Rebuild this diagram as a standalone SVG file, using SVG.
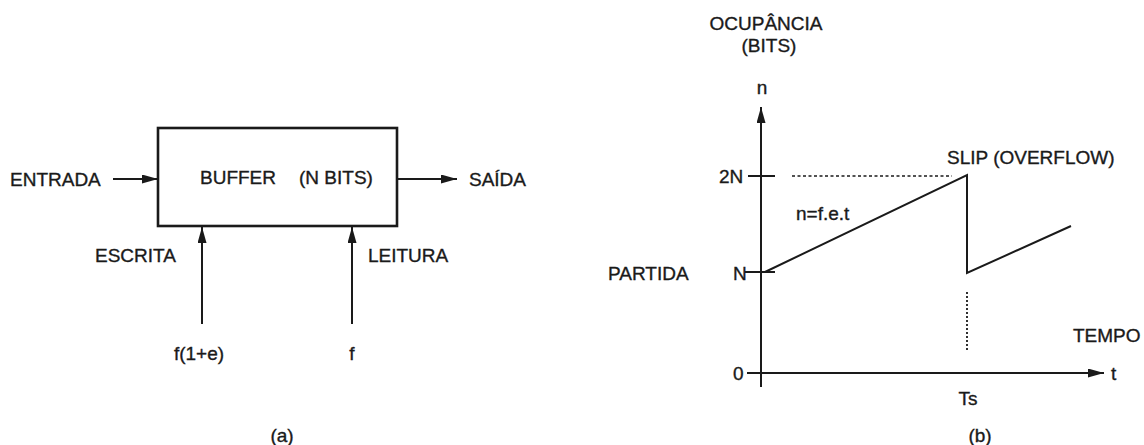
<svg xmlns="http://www.w3.org/2000/svg" width="1144" height="445" viewBox="0 0 1144 445">
  <style>
    text { font-family: "Liberation Sans", Arial, sans-serif; font-size: 19px; fill: #1a1a1a; stroke: #1a1a1a; stroke-width: 0.35; }
    .ln { stroke: #1a1a1a; stroke-width: 2; fill: none; }
    .box { stroke: #1a1a1a; stroke-width: 2.6; fill: #ffffff; }
    .dash { stroke: #1a1a1a; stroke-width: 1.6; stroke-dasharray: 3 2.5; fill: none; }
    .dot { stroke: #1a1a1a; stroke-width: 1.8; stroke-dasharray: 2 2; fill: none; }
    .mid { text-anchor: middle; }
  </style>
  <defs>
    <marker id="ah" markerUnits="userSpaceOnUse" markerWidth="16" markerHeight="9" refX="16" refY="4.5" orient="auto">
      <path d="M0,0 L16,4.5 L0,9 z" fill="#1a1a1a"/>
    </marker>
  </defs>
  <rect width="1144" height="445" fill="#ffffff"/>

  <!-- Panel (a) -->
  <g id="buffer">
    <rect class="box" x="158" y="128" width="239" height="98"/>
    <text x="200" y="184">BUFFER</text>
    <text x="299" y="184">(N BITS)</text>
  </g>
  <g id="entrada"><text x="10" y="186">ENTRADA</text></g>
  <g id="saida"><text x="469" y="186">SAÍDA</text></g>
  <g id="escrita"><text x="95" y="262">ESCRITA</text></g>
  <g id="leitura"><text x="368" y="262">LEITURA</text></g>
  <g id="f1e"><text class="mid" x="199" y="360">f(1+e)</text></g>
  <g id="f"><text class="mid" x="352" y="360">f</text></g>
  <g id="label-a"><text class="mid" x="282" y="442">(a)</text></g>

  <!-- Panel (b) -->
  <g id="ylabel">
    <text class="mid" x="766" y="30">OCUPÂNCIA</text>
    <text class="mid" x="769" y="52">(BITS)</text>
    <text class="mid" x="762" y="94">n</text>
  </g>
  <g id="ticks">
    <text x="719" y="183">2N</text>
    <text x="733" y="280">N</text>
    <text x="733" y="380">0</text>
    <path class="ln" d="M748,176 H775 M745,272 H775"/>
  </g>
  <g id="partida"><text x="608" y="280">PARTIDA</text></g>
  <g id="slip"><text x="947" y="164">SLIP (OVERFLOW)</text></g>
  <g id="formula"><text x="796" y="220">n=f.e.t</text></g>
  <g id="tempo"><text x="1073" y="342">TEMPO</text></g>
  <g id="tlabel"><text x="1111" y="380">t</text></g>
  <g id="ts"><text class="mid" x="968" y="405">Ts</text></g>
  <g id="label-b"><text class="mid" x="980" y="442">(b)</text></g>
  <g id="curve">
    <polyline class="ln" points="765,272 967,175 967,273 1071,226"/>
    <line class="dash" x1="792" y1="176" x2="952" y2="176"/>
    <line class="dot" x1="967" y1="292" x2="967" y2="352"/>
  </g>

  <!-- Connectors / axes -->
  <g id="connectors">
    <line class="ln" x1="113" y1="179" x2="158" y2="179" marker-end="url(#ah)"/>
    <line class="ln" x1="397" y1="179" x2="457" y2="179" marker-end="url(#ah)"/>
    <line class="ln" x1="202" y1="324" x2="202" y2="227" marker-end="url(#ah)"/>
    <line class="ln" x1="352" y1="324" x2="352" y2="227" marker-end="url(#ah)"/>
    <line class="ln" x1="761" y1="387" x2="761" y2="107" marker-end="url(#ah)"/>
    <line class="ln" x1="747" y1="373" x2="1104" y2="373" marker-end="url(#ah)"/>
  </g>
</svg>
